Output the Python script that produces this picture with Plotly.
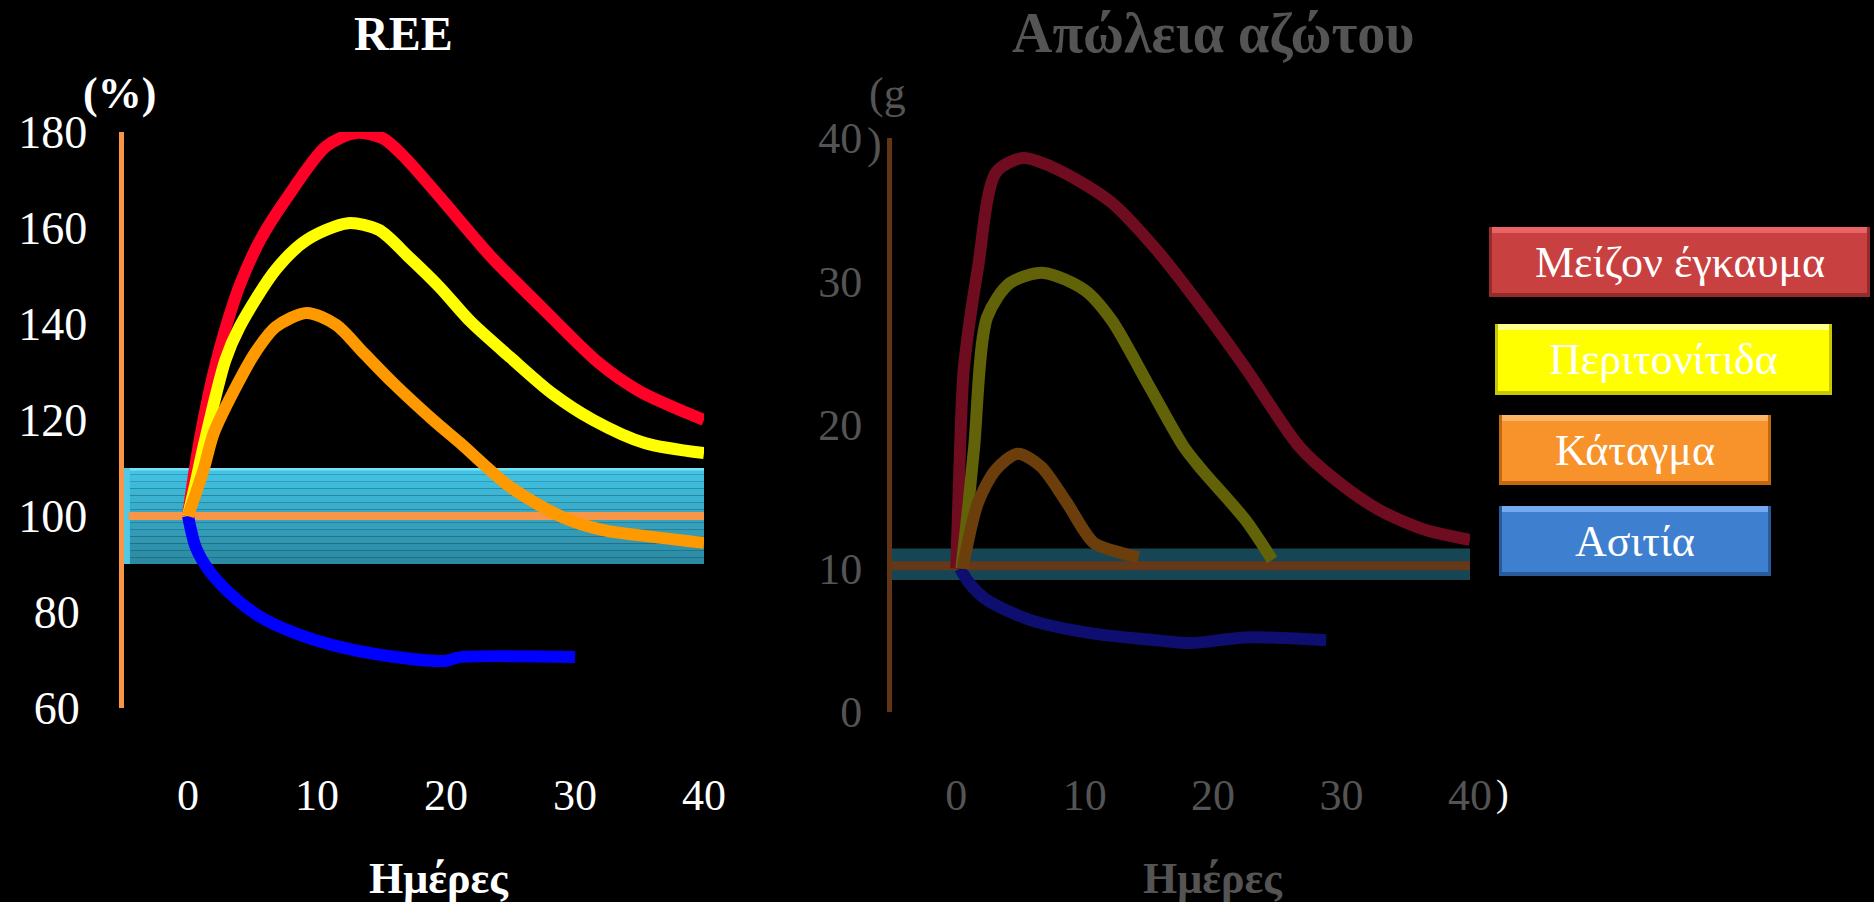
import plotly.graph_objects as go

W, H = 1874, 902
FONT = "Liberation Serif"

# ---------------- REE (% of normal) ----------------
ree_burn_days = [0, 0.6, 1.2, 2.0, 2.9, 4.0, 5.6, 7.6, 10.7, 13.0, 15.1, 16.7, 19.5, 23.5, 27.4, 31.8, 35.0, 40.0]
ree_burn = [100, 111, 120, 130, 139, 148, 157.5, 166, 177, 179.8, 178.7, 175, 166.5, 154, 143.5, 132, 126, 120]

ree_perit_days = [0, 0.6, 1.2, 2.9, 4.0, 6.8, 9.2, 12.4, 14.8, 17.1, 19.5, 21.9, 25.0, 28.2, 31.4, 35.4, 40.0]
ree_perit = [100, 107, 114.4, 132.5, 139.4, 151.3, 157.5, 161, 159.6, 154, 147.7, 140.5, 133, 125.6, 120, 115.2, 113.1]

ree_fract_days = [0, 1.2, 2.0, 3.6, 5.2, 6.8, 9.2, 11.5, 13.6, 15.9, 19.0, 21.1, 25.0, 29.0, 32.1, 36.2, 40.0]
ree_fract = [100, 109.6, 117.3, 126.3, 134, 139.4, 142.3, 139.8, 134, 127.7, 120, 115.2, 106, 99.8, 97.1, 95.6, 94.4]

ree_starv_days = [0, 0.6, 1.6, 3.2, 5.6, 8.3, 11.2, 15.1, 19.9, 21.1, 30.0]
ree_starv = [100, 93.5, 88.75, 84, 79, 75.6, 73.1, 71, 69.8, 70.6, 70.6]

ree_normal_band = (90, 110)
ree_normal_line = 100

# ---------------- Nitrogen loss (g/day) ----------------
n_burn_days = [0, 0.3, 0.6, 1.7, 3.1, 5.2, 7.9, 12.1, 15.6, 19.1, 22.5, 26.7, 29.5, 32.9, 36.5, 40.0]
n_burn = [10, 18.5, 24, 31, 37.6, 38.6, 37.8, 35.5, 32.2, 28.2, 24, 18.5, 16.2, 14.1, 12.7, 12]

n_perit_days = [0.4, 0.9, 1.4, 2.4, 4.2, 6.8, 10.0, 12.1, 14.9, 17.7, 19.1, 22.5, 24.6]
n_perit = [10, 14, 18.5, 27.5, 29.9, 30.6, 29.4, 27.3, 22.9, 18.5, 16.9, 13.4, 10.6]

n_fract_days = [0.5, 1.7, 3.1, 4.8, 6.6, 8.6, 10.7, 12.8, 14.2]
n_fract = [10, 14.6, 16.9, 18, 17.1, 14.6, 11.8, 11.1, 10.8]

n_starv_days = [0.3, 1.0, 2.4, 5.8, 10.4, 15.6, 18.3, 22.5, 28.8]
n_starv = [10, 9.0, 7.8, 6.4, 5.5, 5.0, 4.8, 5.2, 5.0]

n_normal_band = (9.2, 11.4)
n_normal_line = 10.2

# ---------------- labels ----------------
legend_labels = ["Μείζον έγκαυμα", "Περιτονίτιδα", "Κάταγμα", "Ασιτία"]
x_ticks = [0, 10, 20, 30, 40]
ree_ticks = [60, 80, 100, 120, 140, 160, 180]
n_ticks = [0, 10, 20, 30, 40]


def fx(px):
    return px / W


def fy(px):
    return 1 - px / H


fig = go.Figure()

bright = {"burn": "#FF0027", "perit": "#FFFF00", "fract": "#FF9900", "starv": "#0000FF"}
dim = {"burn": "rgb(112,12,32)", "perit": "rgb(98,98,8)", "fract": "rgb(108,62,12)",
       "starv": "rgb(14,14,112)"}


def add_curve(xs, ys, color, width, axes):
    fig.add_trace(go.Scatter(
        x=xs, y=ys, mode="lines",
        line=dict(color=color, width=width, shape="spline", smoothing=0.8),
        xaxis=axes[0], yaxis=axes[1], hoverinfo="skip"))


# --- left panel: normal range band with vertical shading ---
n_strips = 14
b0, b1 = ree_normal_band
top_c, bot_c = (66, 196, 228), (44, 138, 164)
for i in range(n_strips):
    t = i / (n_strips - 1)
    c = tuple(int(top_c[k] + (bot_c[k] - top_c[k]) * t) for k in range(3))
    y_hi = b1 - (b1 - b0) * i / n_strips
    y_lo = b1 - (b1 - b0) * (i + 1) / n_strips
    fig.add_shape(type="rect", xref="x", yref="y", x0=-5, x1=40, y0=y_lo, y1=y_hi,
                  fillcolor="rgb(%d,%d,%d)" % c, line=dict(width=0), layer="below")
fig.add_shape(type="rect", xref="x", yref="y", x0=-5, x1=40, y0=b1 - 0.5, y1=b1,
              fillcolor="rgb(120,225,245)", line=dict(width=0), layer="below")
fig.add_shape(type="rect", xref="x", yref="y", x0=-5, x1=-4.5, y0=b0, y1=b1,
              fillcolor="rgb(80,200,230)", line=dict(width=0), layer="below")

fig.add_trace(go.Scatter(x=[-4.6, 40], y=[ree_normal_line] * 2, mode="lines",
                         line=dict(color="#F79646", width=8), xaxis="x", yaxis="y",
                         hoverinfo="skip"))

add_curve(ree_starv_days, ree_starv, bright["starv"], 12, ("x", "y"))
add_curve(ree_burn_days, ree_burn, bright["burn"], 12, ("x", "y"))
add_curve(ree_perit_days, ree_perit, bright["perit"], 12, ("x", "y"))
add_curve(ree_fract_days, ree_fract, bright["fract"], 12, ("x", "y"))

# --- right panel (dimmed) ---
fig.add_shape(type="rect", xref="x2", yref="y2", x0=-5, x1=40,
              y0=n_normal_band[0], y1=n_normal_band[1],
              fillcolor="rgb(22,70,84)", line=dict(width=0), layer="below")
fig.add_trace(go.Scatter(x=[-5, 40], y=[n_normal_line] * 2, mode="lines",
                         line=dict(color="rgb(100,56,24)", width=9), xaxis="x2", yaxis="y2",
                         hoverinfo="skip"))
add_curve(n_starv_days, n_starv, dim["starv"], 12, ("x2", "y2"))
add_curve(n_burn_days, n_burn, dim["burn"], 12, ("x2", "y2"))
add_curve(n_perit_days, n_perit, dim["perit"], 12, ("x2", "y2"))
add_curve(n_fract_days, n_fract, dim["fract"], 12, ("x2", "y2"))

white = "#FFFFFF"
grey = "rgb(84,84,84)"

# two-digit labels get a narrow trailing space so they sit centred under the wider ones
ree_ticktext = [str(v) + ("\u2006" if v < 100 else "") for v in ree_ticks]

fig.update_layout(
    width=W, height=H,
    margin=dict(l=0, r=0, t=0, b=0, autoexpand=False),
    paper_bgcolor="black", plot_bgcolor="black",
    showlegend=False,
    font=dict(family=FONT, color=white),
    xaxis=dict(domain=[fx(123.5), fx(704)], range=[-5, 40], anchor="free", position=fy(765),
               tickvals=x_ticks, showgrid=False, zeroline=False, showline=False, ticks="",
               automargin=False,
               tickfont=dict(size=44, color=white, family=FONT)),
    yaxis=dict(domain=[fy(708), fy(132)], range=[60, 180], anchor="x",
               tickvals=ree_ticks, ticktext=ree_ticktext, showgrid=False, zeroline=False,
               showline=True, linecolor="#F79646", linewidth=5, ticks="",
               ticklabelstandoff=22, automargin=False,
               tickfont=dict(size=46, color=white, family=FONT)),
    xaxis2=dict(domain=[fx(892), fx(1470)], range=[-5, 40], anchor="free", position=fy(765),
                tickvals=x_ticks, showgrid=False, zeroline=False, showline=False, ticks="",
                automargin=False,
                tickfont=dict(size=44, color=grey, family=FONT)),
    yaxis2=dict(domain=[fy(712), fy(138)], range=[0, 40], anchor="x2",
                tickvals=n_ticks, showgrid=False, zeroline=False,
                showline=True, linecolor="rgb(96,54,22)", linewidth=5, ticks="",
                ticklabelstandoff=16, automargin=False,
                tickfont=dict(size=44, color=grey, family=FONT)),
)

# titles and axis captions
texts = [
    ("REE", 403, 33, 48, white, True),
    ("(%)", 119, 93, 44, white, True),
    ("Ημέρες", 439, 878, 44, white, True),
    ("Απώλεια αζώτου", 1213, 33, 56, grey, True),
    ("(g", 887, 93, 44, grey, False),
    (")", 874, 143, 44, grey, False),
    ("Ημέρες", 1213, 878, 44, grey, True),
    (")", 1502, 793, 38, white, False),
]
for txt, px, py, size, col, bold in texts:
    fig.add_annotation(x=fx(px), y=fy(py), xref="paper", yref="paper", showarrow=False,
                       text="<b>%s</b>" % txt if bold else txt,
                       font=dict(size=size, color=col, family=FONT),
                       xanchor="center", yanchor="middle")

# bevelled key boxes
boxes = [
    (1489, 1870, 227, 297, "#C8403F", "#E86464", "#962B2B"),
    (1495, 1832, 324, 395, "#FFFF00", "#FFFF8C", "#C8C800"),
    (1499, 1771, 415, 485, "#F7932A", "#FFB466", "#C2680F"),
    (1499, 1771, 506, 576, "#3F7FD0", "#74AAF0", "#2A5A9A"),
]
for (x0, x1, y0, y1, main, light, dark), label in zip(boxes, legend_labels):
    fig.add_shape(type="rect", xref="paper", yref="paper", x0=fx(x0), x1=fx(x1),
                  y0=fy(y1), y1=fy(y0), fillcolor=dark, line=dict(width=0))
    fig.add_shape(type="rect", xref="paper", yref="paper", x0=fx(x0 + 3), x1=fx(x1 - 3),
                  y0=fy(y1 - 4), y1=fy(y0), fillcolor=main, line=dict(width=0))
    fig.add_shape(type="rect", xref="paper", yref="paper", x0=fx(x0 + 3), x1=fx(x1 - 3),
                  y0=fy(y0 + 6), y1=fy(y0), fillcolor=light, line=dict(width=0))
    fig.add_annotation(x=fx((x0 + x1) / 2), y=fy((y0 + y1) / 2), xref="paper", yref="paper",
                       showarrow=False, text=label,
                       font=dict(size=44, color=white, family=FONT),
                       xanchor="center", yanchor="middle")

fig.write_html("out.html")
